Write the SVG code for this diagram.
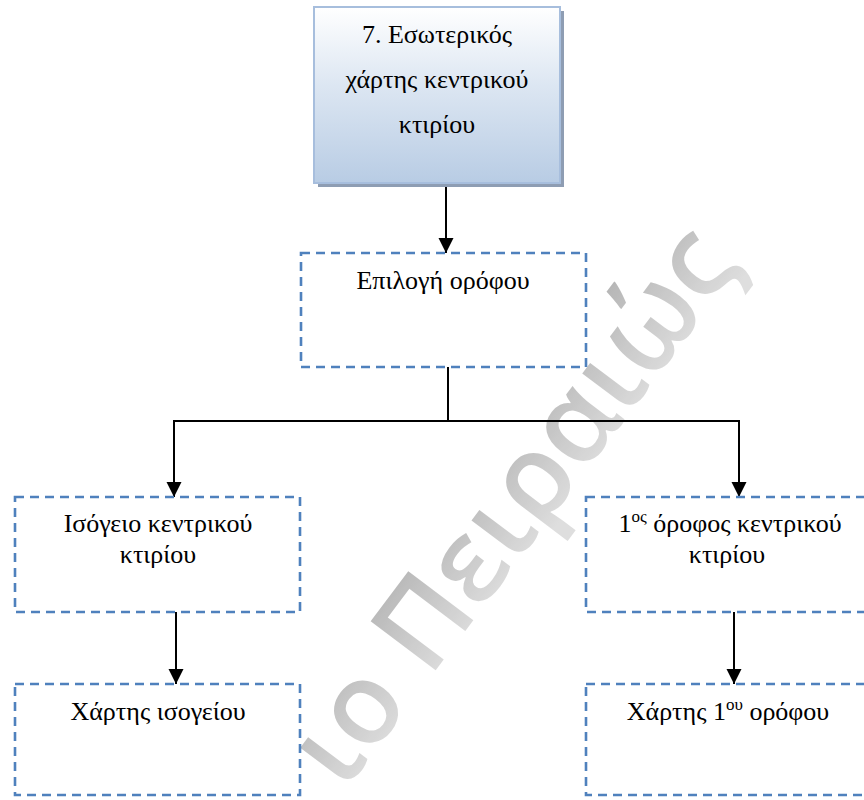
<svg xmlns="http://www.w3.org/2000/svg" width="864" height="800" viewBox="0 0 864 800">
  <defs>
    <linearGradient id="topFill" x1="0" y1="0" x2="0" y2="1">
      <stop offset="0" stop-color="#ffffff"/>
      <stop offset="0.45" stop-color="#dce6f2"/>
      <stop offset="1" stop-color="#b8cce4"/>
    </linearGradient>
    <linearGradient id="markFill" x1="0" y1="0" x2="0" y2="1">
      <stop offset="0.15" stop-color="#a2a2a2"/>
      <stop offset="0.85" stop-color="#d6d6d6"/>
    </linearGradient>
    <marker id="arrow" markerUnits="userSpaceOnUse" markerWidth="16" markerHeight="16" viewBox="0 0 16 16" refX="15" refY="8" orient="auto">
      <path d="M0,0.5 L15,8 L0,15.5 Z" fill="#000"/>
    </marker>
    <style>
      .label { font-family: "Liberation Serif", "Times New Roman", serif; font-size: 26px; fill: #000; text-anchor: middle; }
      .dash { fill: #fff; stroke: #4f81bd; stroke-width: 2.6; stroke-dasharray: 9 6; }
      .link { fill: none; stroke: #000; stroke-width: 2; }
      .mark { font-family: "Open Sans", "Noto Sans", sans-serif; font-size: 114px; font-weight: 600; fill: url(#markFill); opacity: 0.8; }
    </style>
  </defs>

  <rect width="864" height="800" fill="#fff"/>

  <!-- background watermark -->
  <g id="watermark">
    <text class="mark" transform="translate(344,792) rotate(-53)">ιο Πειραιώς</text>
  </g>

  <!-- connectors -->
  <g id="connectors">
    <line class="link" x1="446" y1="187" x2="446" y2="253" marker-end="url(#arrow)"/>
    <polyline class="link" points="448,367 448,421"/>
    <polyline class="link" points="174,421 740,421"/>
    <line class="link" x1="174" y1="420" x2="174" y2="497" marker-end="url(#arrow)"/>
    <line class="link" x1="739" y1="420" x2="739" y2="497" marker-end="url(#arrow)"/>
    <line class="link" x1="176" y1="612" x2="176" y2="684" marker-end="url(#arrow)"/>
    <line class="link" x1="734" y1="612" x2="734" y2="684" marker-end="url(#arrow)"/>
  </g>

  <!-- node 7: internal map -->
  <g id="node-map">
    <rect x="318" y="11" width="246" height="176" fill="#8e9db3"/>
    <rect x="314" y="7" width="246" height="176" fill="url(#topFill)" stroke="#a7bedd" stroke-width="2"/>
    <text class="label" x="437" y="43">7. Εσωτερικός</text>
    <text class="label" x="437" y="88">χάρτης κεντρικού</text>
    <text class="label" x="437" y="133">κτιρίου</text>
  </g>

  <g id="node-floor-select">
    <rect class="dash" x="301" y="253" width="285" height="114"/>
    <text class="label" x="443" y="289">Επιλογή ορόφου</text>
  </g>

  <g id="node-ground">
    <rect class="dash" x="15" y="497" width="285" height="115"/>
    <text class="label" x="158" y="532">Ισόγειο κεντρικού</text>
    <text class="label" x="158" y="563">κτιρίου</text>
  </g>

  <g id="node-first">
    <rect class="dash" x="586" y="497" width="285" height="115"/>
    <text class="label" x="730" y="532">1<tspan font-size="17" dy="-10">ος</tspan><tspan dy="10"> όροφος κεντρικού</tspan></text>
    <text class="label" x="727" y="563">κτιρίου</text>
  </g>

  <g id="node-ground-map">
    <rect class="dash" x="15" y="684" width="285" height="111"/>
    <text class="label" x="158" y="720">Χάρτης ισογείου</text>
  </g>

  <g id="node-first-map">
    <rect class="dash" x="586" y="684" width="285" height="111"/>
    <text class="label" x="728" y="720">Χάρτης 1<tspan font-size="17" dy="-10">ου</tspan><tspan dy="10"> ορόφου</tspan></text>
  </g>
</svg>
